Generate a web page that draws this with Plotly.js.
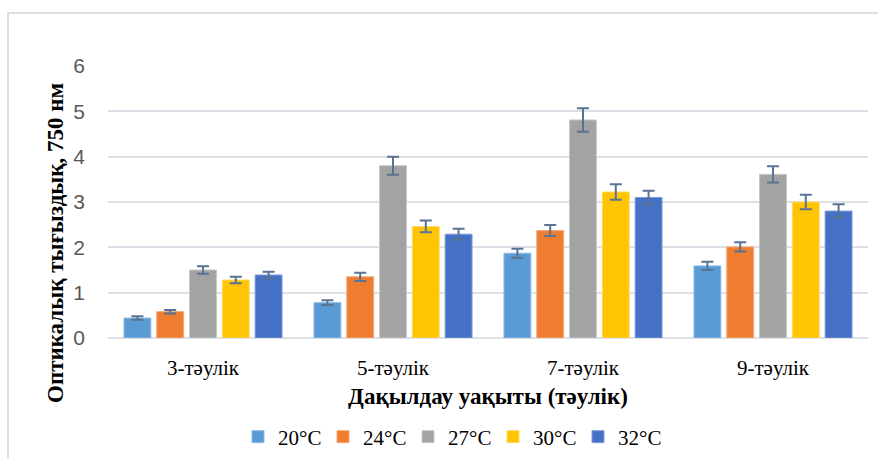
<!DOCTYPE html>
<html>
<head>
<meta charset="utf-8">
<script src="https://cdn.plot.ly/plotly-3.0.1.min.js"></script>
<style>html,body{margin:0;padding:0;background:#fff;}#chart{width:878px;height:459px;}</style>
</head>
<body>
<div id="chart"></div>
<script>
const categories = ["3-тәулік", "5-тәулік", "7-тәулік", "9-тәулік"];
const seriesNames = ["20°C", "24°C", "27°C", "30°C", "32°C"];
const v20 = [0.44, 0.78, 1.87, 1.59];
const v24 = [0.58, 1.35, 2.37, 2.01];
const v27 = [1.50, 3.80, 4.81, 3.61];
const v30 = [1.28, 2.46, 3.22, 3.00];
const v32 = [1.39, 2.29, 3.10, 2.80];
const e20 = [0.04, 0.05, 0.10, 0.09];
const e24 = [0.04, 0.09, 0.12, 0.10];
const e27 = [0.08, 0.20, 0.26, 0.18];
const e30 = [0.07, 0.13, 0.17, 0.16];
const e32 = [0.07, 0.12, 0.15, 0.15];
const yTicks = [0, 1, 2, 3, 4, 5, 6];
const xTitle = "Дақылдау уақыты (тәулік)";
const yTitle = "Оптикалық тығыздық, 750 нм";

const values = [v20, v24, v27, v30, v32];
const errors = [e20, e24, e27, e30, e32];
const colors = ["#5B9BD5", "#EF7D2F", "#A3A3A3", "#FFC404", "#4470C6"];
const edges = ["#8DBBE6", "#F5A878", "#C8C8C8", "#FFD966", "#7E9BD8"];

const traces = seriesNames.map((n, i) => ({
  type: "bar",
  name: n,
  x: categories,
  y: values[i],
  marker: {color: colors[i], line: {color: edges[i], width: 1}},
  error_y: {type: "data", array: errors[i], visible: true, color: "#5A7393", thickness: 2, width: 6}
}));

const L = 108, R = 10, T = 66, B = 121;
const pw = 878 - L - R, ph = 459 - T - B;
const px = v => (v - L) / pw;
const py = v => (459 - B - v) / ph;
const serif = "Liberation Serif, Times New Roman, serif";

const layout = {
  width: 878, height: 459,
  margin: {l: L, r: R, t: T, b: B, autoexpand: false},
  paper_bgcolor: "#fff", plot_bgcolor: "#fff",
  barmode: "group", bargap: 0.137, bargroupgap: 0.18,
  showlegend: true,
  legend: {orientation: "h", x: px(238), xanchor: "left", y: py(437), yanchor: "middle",
    font: {family: serif, size: 21, color: "#000"},
    traceorder: "normal", itemwidth: 30, entrywidth: 40, entrywidthmode: "pixels"},
  xaxis: {
    type: "category", showgrid: false, zeroline: false, showline: false, ticks: "",
    ticklabelstandoff: 15,
    tickfont: {family: serif, size: 21, color: "#000"},
    title: {text: "<b>" + xTitle + "</b>", standoff: 8,
      font: {family: serif, size: 23, color: "#000"}},
    automargin: true
  },
  yaxis: {
    range: [0, 6], tickvals: yTicks, showgrid: true, gridcolor: "#DDE1E7", gridwidth: 2,
    zeroline: true, zerolinecolor: "#DDE1E7", zerolinewidth: 2, showline: false, ticks: "",
    ticklabelstandoff: 22,
    tickfont: {family: "Liberation Sans, Arial, sans-serif", size: 21, color: "#595959"},
    automargin: false
  },
  annotations: [{text: "<b>" + yTitle + "</b>", textangle: -90, xref: "paper", yref: "paper",
    x: px(55), y: py(243), xanchor: "center", yanchor: "middle", showarrow: false,
    font: {family: serif, size: 23, color: "#000"}}],
  shapes: [{type: "rect", xref: "paper", yref: "paper",
    x0: px(8), x1: px(884), y0: py(470), y1: py(13),
    line: {color: "#DADEE5", width: 2}, fillcolor: "rgba(0,0,0,0)", layer: "below"}]
};

Plotly.newPlot("chart", traces, layout, {displayModeBar: false, staticPlot: true});
</script>
</body>
</html>
